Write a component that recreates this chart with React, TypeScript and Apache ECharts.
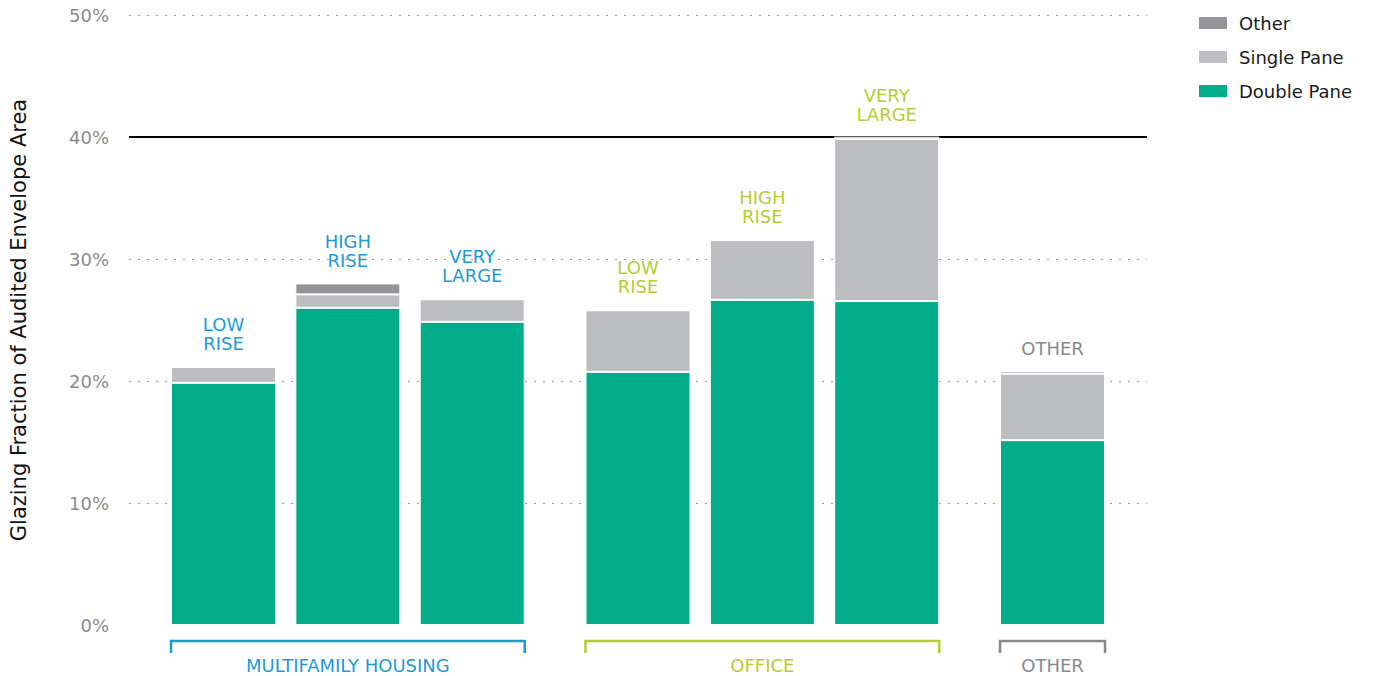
import React, { useEffect, useRef } from "react";
import * as echarts from "echarts";

const groups = ["MULTIFAMILY HOUSING", "OFFICE", "OTHER"];
const groupColors = ["#1b9ad6", "#b5cd2f", "#88898b"];
const barLabels = ["LOW\nRISE", "HIGH\nRISE", "VERY\nLARGE", "LOW\nRISE", "HIGH\nRISE", "VERY\nLARGE", "OTHER"];
const barGroup = [0, 0, 0, 1, 1, 1, 2];
const doublePane = [19.85, 26.0, 24.85, 20.75, 26.65, 26.55, 15.15];
const singlePane = [1.3, 1.1, 1.85, 5.05, 4.9, 13.3, 5.45];
const otherGlazing = [0.12, 0.9, 0.1, 0.05, 0.05, 0.18, 0.2];
const seriesNames = ["Double Pane", "Single Pane", "Other"];
const seriesColors = ["#00ac8a", "#bcbdc0", "#939598"];
const yAxisTitle = "Glazing Fraction of Audited Envelope Area";
const yMin = 0;
const yMax = 50;
const yInterval = 10;
const highlightLine = 40;

const FONT = "DejaVu Sans";
const BAR_W = 105;

export default function App() {
  const ref = useRef<HTMLDivElement>(null);
  useEffect(() => {
    if (!ref.current) return;
    const chart = echarts.init(ref.current, null, { renderer: "svg" });

    // slot layout: 3 slots between bars in a group, 4 between groups
    const slotOf: number[] = [];
    barGroup.forEach((g, i) => {
      if (i === 0) slotOf.push(0);
      else slotOf.push(slotOf[i - 1] + (g === barGroup[i - 1] ? 3 : 4));
    });
    const nSlots = slotOf[slotOf.length - 1] + 1;
    const slotNames = Array.from({ length: nSlots }, (_, i) => "s" + i);
    const barAtSlot: number[] = Array(nSlots).fill(-1);
    slotOf.forEach((s, i) => (barAtSlot[s] = i));

    const toSlots = (arr: number[]) =>
      slotNames.map((_, s) => (barAtSlot[s] >= 0 ? arr[barAtSlot[s]] : "-"));

    const rich: any = {};
    groupColors.forEach((c, g) => {
      rich["g" + g] = { color: c, fontSize: 18, fontFamily: FONT, lineHeight: 19, align: "center" };
    });

    const barSeries = [doublePane, singlePane, otherGlazing].map((arr, k) => ({
      name: seriesNames[k],
      type: "bar",
      stack: "total",
      xAxisIndex: 1,
      yAxisIndex: 1,
      barWidth: BAR_W,
      clip: false,
      z: 3,
      itemStyle: { color: seriesColors[k], borderColor: "#ffffff", borderWidth: 1 },
      data: toSlots(arr),
      label:
        k === 2
          ? {
              show: true,
              position: "top",
              distance: 13,
              formatter: (p: any) => {
                const b = barAtSlot[p.dataIndex];
                if (b < 0) return "";
                const g = barGroup[b];
                return barLabels[b]
                  .split("\n")
                  .map((t) => `{g${g}|${t}}`)
                  .join("\n");
              },
              rich,
            }
          : { show: false },
    }));

    const gridLeft = 128;
    const gridRight = 1147;
    const gridTop = 15;
    const gridBottom = 625;
    const firstCenter = 223.5;
    const lastCenter = 1052.5;
    const slotW = (lastCenter - firstCenter) / (nSlots - 1);
    const g1Left = firstCenter - slotW / 2;
    const g1Width = slotW * nSlots;

    chart.setOption({
      animation: false,
      textStyle: { fontFamily: FONT },
      grid: [
        { left: gridLeft, width: gridRight - gridLeft, top: gridTop, height: gridBottom - gridTop },
        { left: g1Left, width: g1Width, top: gridTop, height: gridBottom - gridTop },
      ],
      legend: {
        orient: "vertical",
        left: 1192,
        top: 9,
        itemWidth: 30,
        itemHeight: 14,
        itemGap: 16,
        icon: "rect",
        data: [seriesNames[2], seriesNames[1], seriesNames[0]],
        textStyle: { fontSize: 18, color: "#1a1a1a", fontFamily: FONT, padding: [0, 0, 0, 6] },
      },
      xAxis: [
        { type: "category", gridIndex: 0, data: [""], show: false },
        {
          type: "category",
          gridIndex: 1,
          data: slotNames,
          axisLine: { show: false },
          axisTick: { show: false },
          axisLabel: { show: false },
        },
      ],
      yAxis: [
        {
          type: "value",
          gridIndex: 0,
          min: yMin,
          max: yMax,
          interval: yInterval,
          name: yAxisTitle,
          nameLocation: "middle",
          nameRotate: 90,
          nameGap: 100,
          nameTextStyle: { fontSize: 21, color: "#111", fontFamily: FONT },
          axisLine: { show: false },
          axisTick: { show: false },
          axisLabel: { formatter: "{value}%", fontSize: 18, color: "#8a8a8c", margin: 20, fontFamily: FONT },
          splitLine: {
            show: true,
            showMinLine: false,
            lineStyle: { color: "#9a9a9a", type: [2, 7], width: 1.2 },
          },
        },
        { type: "value", gridIndex: 1, min: yMin, max: yMax, interval: yInterval, show: false, splitLine: { show: false } },
      ],
      series: [
        {
          type: "line",
          xAxisIndex: 0,
          yAxisIndex: 0,
          data: [],
          z: 1,
          silent: true,
          markLine: {
            silent: true,
            symbol: "none",
            z: 1,
            label: { show: false },
            lineStyle: { color: "#000", width: 2, type: "solid" },
            data: [{ yAxis: highlightLine }],
          },
        },
        ...barSeries,
      ],
    });

    // group brackets and group names
    const elements: any[] = [];
    groups.forEach((name, g) => {
      const idx = barGroup.map((bg, i) => (bg === g ? i : -1)).filter((i) => i >= 0);
      const x1 = (chart.convertToPixel({ xAxisIndex: 1 }, slotOf[idx[0]]) as number) - BAR_W / 2;
      const x2 = (chart.convertToPixel({ xAxisIndex: 1 }, slotOf[idx[idx.length - 1]]) as number) + BAR_W / 2;
      elements.push({
        type: "polyline",
        shape: { points: [[x1, gridBottom + 28], [x1, gridBottom + 16], [x2, gridBottom + 16], [x2, gridBottom + 28]] },
        style: { stroke: groupColors[g], lineWidth: 2.5, fill: null },
      });
      elements.push({
        type: "text",
        x: (x1 + x2) / 2,
        y: gridBottom + 40,
        style: {
          text: name,
          fill: groupColors[g],
          font: `18px ${FONT}`,
          align: "center",
          verticalAlign: "middle",
        },
      });
    });
    chart.setOption({ graphic: elements });

    return () => chart.dispose();
  }, []);
  return <div ref={ref} style={{ position: "absolute", left: 0, top: 0, width: 1377, height: 676 }} />;
}
